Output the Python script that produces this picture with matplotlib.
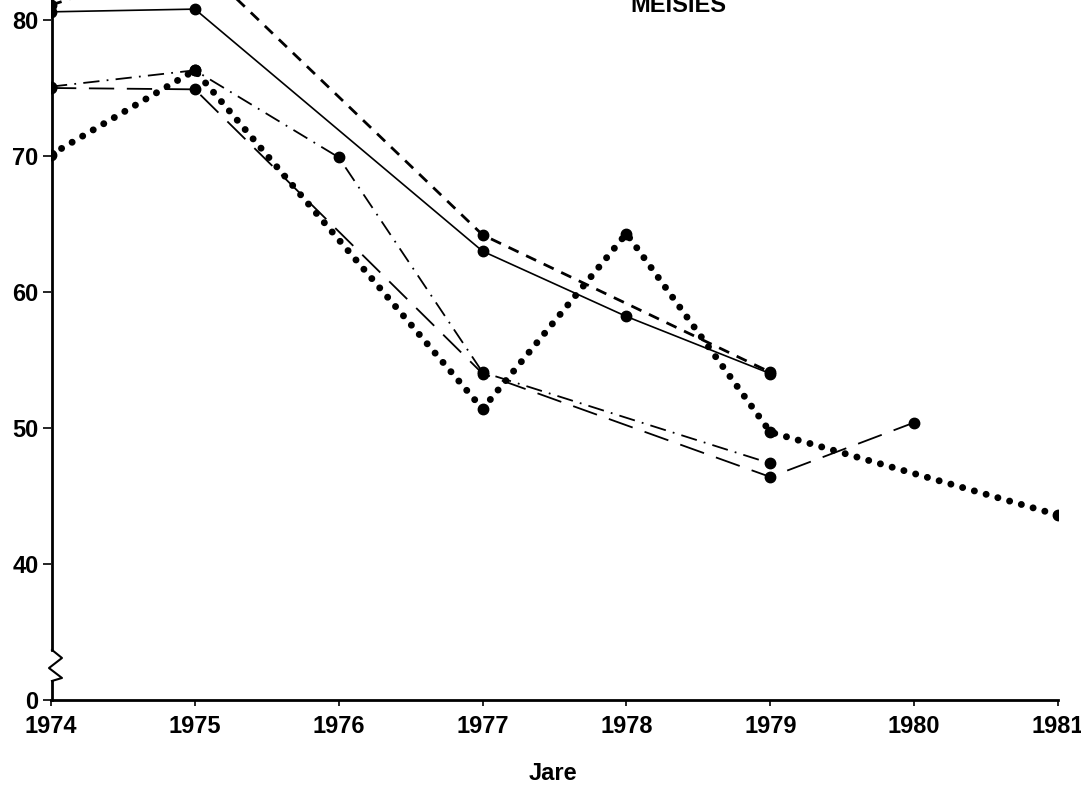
import matplotlib.pyplot as plt
import matplotlib.transforms as mtransforms

plt.rcParams['font.family'] = ['Liberation Sans', 'DejaVu Sans']
plt.rcParams['font.weight'] = 'bold'

# Jaarwaardes per reeks (die y-as is gebreek: "0" staan op posisie 30)
jare = [1974, 1975, 1976, 1977, 1978, 1979, 1980, 1981]
y_ticks = [30, 40, 50, 60, 70, 80]
y_labels = ['0', '40', '50', '60', '70', '80']

reeks_vol_x = [1974, 1975, 1977, 1978, 1979]
reeks_vol_y = [80.6, 80.8, 63.0, 58.2, 54.0]

reeks_kort_x = [1974, 1975, 1977, 1979]
reeks_kort_y = [81.1, 84.5, 64.2, 54.1]

reeks_streepstip_x = [1974, 1975, 1976, 1977, 1979]
reeks_streepstip_y = [75.1, 76.3, 69.9, 54.1, 47.4]

reeks_lang_x = [1974, 1975, 1977, 1979, 1980]
reeks_lang_y = [75.0, 74.9, 54.0, 46.4, 50.4]

reeks_kolle_x = [1974, 1975, 1977, 1978, 1979, 1981]
reeks_kolle_y = [70.1, 76.3, 51.4, 64.3, 49.7, 43.6]

fig = plt.figure(figsize=(10.81, 7.88), dpi=100)
ax = fig.add_axes([51 / 1081, 88 / 788, 1007 / 1081, 700 / 788])

mk = dict(marker='o', markersize=7.5, color='black')
ax.plot(reeks_vol_x, reeks_vol_y, linestyle='-', linewidth=1.2, **mk)
ax.plot(reeks_kort_x, reeks_kort_y, linestyle=(0, (4, 3)), linewidth=2.0, **mk)
ax.plot(reeks_streepstip_x, reeks_streepstip_y, linestyle=(0, (9, 4, 1, 4)), linewidth=1.3, **mk)
ax.plot(reeks_lang_x, reeks_lang_y, linestyle=(0, (14, 7)), linewidth=1.3, **mk)
ax.plot(reeks_kolle_x, reeks_kolle_y, linestyle=(0, (0.01, 1.75)), linewidth=5,
        dash_capstyle='round', **mk)

ax.set_xlim(1974, 1981)
ax.set_ylim(30, 81.47)

for s in ['top', 'right', 'left']:
    ax.spines[s].set_visible(False)
ax.spines['bottom'].set_linewidth(2)

# linker as met breuk
tr = mtransforms.blended_transform_factory(ax.transAxes, ax.transData)
dx = 0.0109
ax.plot([0.001, 0.001], [30, 31.4], transform=tr, color='black', lw=2, clip_on=False)
ax.plot([0.001, dx, -0.002, dx, 0.001],
        [33.68, 33.09, 32.35, 31.62, 31.4], transform=tr, color='black', lw=1.5, clip_on=False)
ax.plot([0.001, 0.001], [33.68, 81.47], transform=tr, color='black', lw=2, clip_on=False)

ax.set_yticks(y_ticks)
ax.set_yticklabels(y_labels)
ax.set_xticks(jare)
ax.set_xticklabels([str(j) for j in jare])
ax.tick_params(axis='y', direction='out', length=6, width=1.2, pad=3, labelsize=17)
ax.tick_params(axis='x', direction='out', length=4, width=1.2, pad=7, labelsize=17)

fig.text(553 / 1081, 1 - 774 / 788, 'Jare', ha='center', va='center', fontsize=17, fontweight='bold')
fig.text(678 / 1081, 1 - 12 / 788, 'MEISIES', ha='center', va='baseline', fontsize=17, fontweight='bold')

fig.savefig('out.png', dpi=100)
